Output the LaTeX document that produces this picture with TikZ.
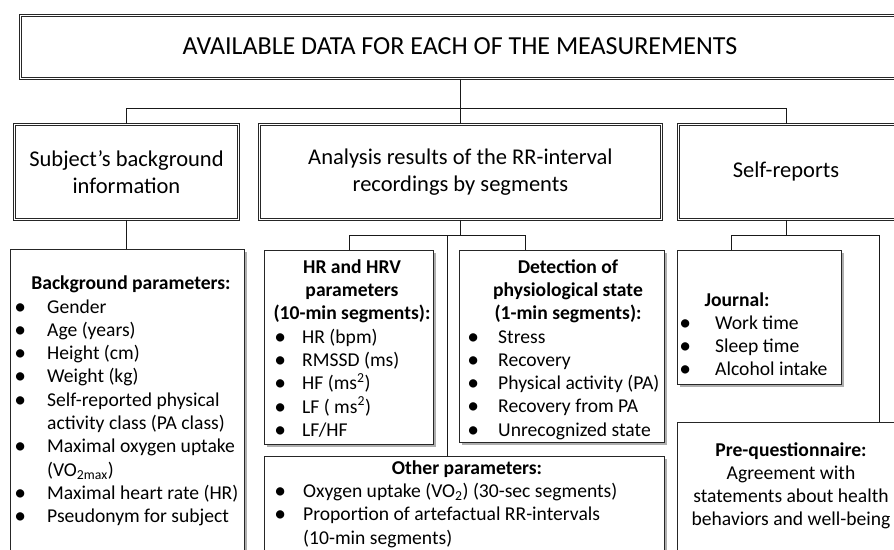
\documentclass[tikz,border=0pt]{standalone}
\usepackage{fontspec}
\setmainfont{Carlito}
\usepackage{graphicx}
\usepackage{tikz}
\usetikzlibrary{positioning}
\usetikzlibrary{shadows}
\tikzset{
  box_one/.style = {draw=black!85, line width=1.2pt, fill=white, inner sep=0pt,
    anchor=north west, drop shadow={shadow xshift=2pt, shadow yshift=-2pt,
    fill=black!45, opacity=.7}},% single frame
  box_dbl/.style = {box_one, double=white, double distance=1.8pt,
    line width=.9pt, align=center},% double frame
  txt_big/.style = {font=\fontsize{22.5}{27.5}\selectfont, align=center,
    inner sep=0pt},
  txt_head/.style = {font=\fontsize{19.6}{23.3}\selectfont\bfseries,
    inner sep=0pt, anchor=base},
  txt_list/.style = {font=\fontsize{19.6}{23.3}\selectfont, inner sep=0pt,
    anchor=base west},
  conn/.style = {draw=black!90, line width=1.1pt}
}
\newcommand{\bul}[1]{\llap{\makebox[0pt]{\raisebox{-1pt}{\scalebox{1.2}{\textbullet}}}\hspace{#1}}}

\begin{document}
\begin{tikzpicture}[x=1pt,y=-1pt]
\useasboundingbox (0,0) rectangle (894,549);
\clip (0,0) rectangle (894,549);

% level 1 and 2 (top and self run off the page)
\node [box_dbl, minimum width=920pt, minimum height=63pt] (top) at (20,15) {};
\node [box_dbl, minimum width=224pt, minimum height=95pt] (subj) at (14,124) {};
\node [box_dbl, minimum width=402pt, minimum height=95pt] (ana) at (259,124) {};
\node [box_dbl, minimum width=260pt, minimum height=95pt] (self) at (678,124) {};

\node [txt_big, font=\fontsize{26}{31}\selectfont] (toptext) at (460,46.5)
  {AVAILABLE DATA FOR EACH OF THE MEASUREMENTS};
\node [txt_big] (subjtext) at (subj.center) {Subject’s background\\information};
\node [txt_big] (anatext) at (ana.center)
  {Analysis results of the RR-interval\\recordings by segments};
\node [txt_big] (selftext) at (786,171.5) {Self-reports};

% level 3
\node [box_one, minimum width=234pt, minimum height=321pt] (bg) at (10,249) {};
\node [box_one, minimum width=169pt, minimum height=194pt] (hrv) at (264,250) {};
\node [box_one, minimum width=205pt, minimum height=192pt] (det) at (459,250) {};
\node [box_one, minimum width=400pt, minimum height=120pt] (oth) at (264,456) {};
\node [box_one, minimum width=164pt, minimum height=134pt] (jrn) at (677,250) {};
\node [box_one, minimum width=260pt, minimum height=150pt] (prq) at (677,422) {};

% connectors
\coordinate (topfork) at ([xshift=-20pt,yshift=-30pt]top.south);
\coordinate (anafork) at ([yshift=-16pt]ana.south);
\coordinate (selffork) at ([xshift=-22pt,yshift=-16pt]self.south);
\draw [conn] ([xshift=-20pt]top.south) -- (ana.north);
\draw [conn] (topfork) -| (subj.north);
\draw [conn] (topfork) -| ([xshift=-22pt]self.north);
\draw [conn] (subj.south) -- (subj.south |- bg.north);
\draw [conn] (ana.south) -- (anafork) -| (hrv.north);
\draw [conn] (anafork) -| ([xshift=-36.5pt]det.north);
\draw [conn] ([xshift=-17pt]oth.north) |- (anafork);
\draw [conn] ([xshift=-22pt]self.south) -- (selffork) -| ([xshift=-28pt]jrn.north);
\draw [conn] (selffork) -| ([xshift=72pt]prq.north);

% texts
\node [txt_head] (bghead) at (131,289) {Background parameters:};
\node [txt_list] (bglist) at (47,313) {\begin{tabular}[t]{@{}l@{}}
  \bul{27pt}Gender\\
  \bul{27pt}Age (years)\\
  \bul{27pt}Height (cm)\\
  \bul{27pt}Weight (kg)\\
  \bul{27pt}Self-reported physical\\
  activity class (PA class)\\
  \bul{27pt}Maximal oxygen uptake\\
  (VO\textsubscript{2max})\\
  \bul{27pt}Maximal heart rate (HR)\\
  \bul{27pt}Pseudonym for subject
\end{tabular}};

\node [txt_head] (hrvhead) at (352,273) {\begin{tabular}[t]{@{}c@{}}
  HR and HRV\\ parameters\\ (10-min segments):
\end{tabular}};
\node [txt_list] (hrvlist) at (302,343) {\begin{tabular}[t]{@{}l@{}}
  \bul{22pt}HR (bpm)\\
  \bul{22pt}RMSSD (ms)\\
  \bul{22pt}HF (ms\textsuperscript{2})\\
  \bul{22pt}LF ( ms\textsuperscript{2})\\
  \bul{22pt}LF/HF
\end{tabular}};

\node [txt_head] (dethead) at (568,273) {\begin{tabular}[t]{@{}c@{}}
  Detection of\\ physiological state\\ (1-min segments):
\end{tabular}};
\node [txt_list] (detlist) at (498,343) {\begin{tabular}[t]{@{}l@{}}
  \bul{25pt}Stress\\
  \bul{25pt}Recovery\\
  \bul{25pt}Physical activity (PA)\\
  \bul{25pt}Recovery from PA\\
  \bul{25pt}Unrecognized state
\end{tabular}};

\node [txt_head] (othhead) at (467,474) {Other parameters:};
\node [txt_list] (othlist) at (303,497.5) {\begin{tabular}[t]{@{}l@{}}
  \bul{23pt}Oxygen uptake (VO\textsubscript{2}) (30-sec segments)\\
  \bul{23pt}Proportion of artefactual RR-intervals\\
  (10-min segments)
\end{tabular}};

\node [txt_head] (jrnhead) at (737,306) {Journal:};
\node [txt_list] (jrnlist) at (715,329) {\begin{tabular}[t]{@{}l@{}}
  \bul{30pt}Work time\\
  \bul{30pt}Sleep time\\
  \bul{30pt}Alcohol intake
\end{tabular}};

\node [txt_list, anchor=base] (prqtext) at (791,456) {\begin{tabular}[t]{@{}c@{}}
  \textbf{Pre-questionnaire:}\\
  Agreement with\\
  statements about health\\
  behaviors and well-being
\end{tabular}};
\end{tikzpicture}
\end{document}
